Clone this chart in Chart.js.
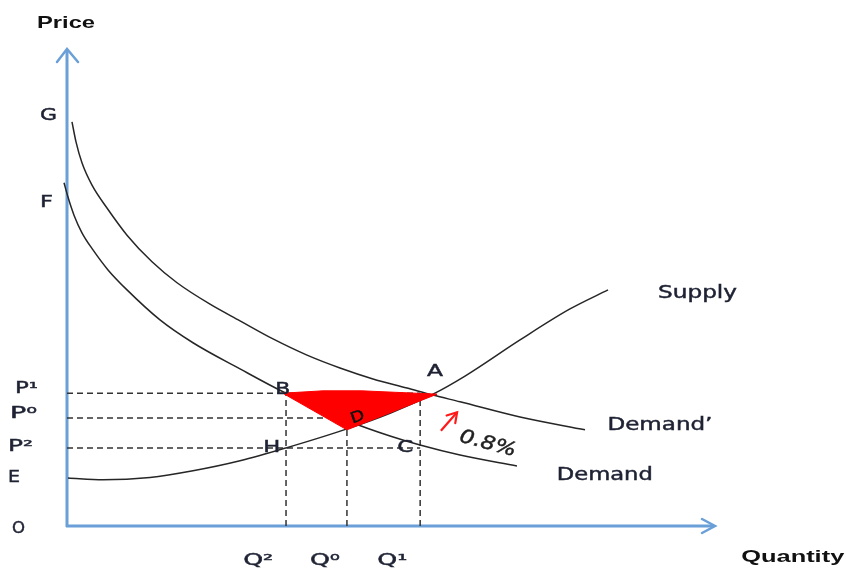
<!DOCTYPE html>
<html>
<head>
<meta charset="utf-8">
<script src="https://cdn.jsdelivr.net/npm/chart.js@4.4.1/dist/chart.umd.min.js"></script>
<style>
html,body{margin:0;padding:0;background:#ffffff;}
#wrap{width:846px;height:570px;position:relative;}
</style>
</head>
<body>
<div id="wrap"><canvas id="c"></canvas></div>
<script>
// ---------- data (quantity / price units) ----------
const demandPrimeQ = [0.77, 1.39, 2.31, 3.86, 6.17, 9.26, 13.12, 16.98, 22.07, 26.70, 31.79, 37.04, 42.13, 47.22, 52.47, 56.48, 60.65, 69.91, 79.94];
const demandPrimeP = [84.9, 80.7, 76.3, 71.6, 66.8, 61.1, 55.5, 51.1, 46.6, 43.1, 39.3, 35.9, 33.2, 30.9, 29.0, 27.5, 26.1, 22.9, 20.2];

const demandQ = [-0.46, 0.15, 1.08, 2.31, 4.01, 6.33, 9.26, 14.35, 19.44, 26.70, 33.33, 39.51, 43.67, 49.85, 54.48, 60.65, 69.44];
const demandP = [72.1, 69.1, 65.3, 61.6, 58.0, 53.8, 49.6, 43.3, 38.5, 33.0, 28.2, 24.4, 21.9, 18.9, 17.0, 14.9, 12.6];

const supplyQ = [0.15, 5.56, 12.81, 19.44, 26.70, 33.80, 43.21, 49.85, 56.48, 61.42, 69.91, 77.62, 83.49];
const supplyP = [10.1, 9.7, 10.2, 11.6, 13.7, 16.4, 20.4, 23.7, 27.7, 31.5, 39.1, 45.6, 49.6];

// price levels P1, P0, P2 and quantity levels Q2, Q0, Q1
const priceLevelNames = ['P1', 'P0', 'P2'];
const priceLevelValues = [27.9, 22.7, 16.4];
const quantityLevelNames = ['Q2', 'Q0', 'Q1'];
const quantityLevelValues = [33.8, 43.2, 54.5];
const equilibriumDP = 20.2; // price at point D (Q0)

// shaded welfare-loss triangle (B -> top edge -> A -> D)
const lossQ = [33.3, 39.5, 45.5, 57.1, 43.2, 33.3];
const lossP = [27.9, 28.4, 28.4, 27.7, 20.2, 27.9];

// red shift arrow (0.8%)
const shiftQ = [57.7, 60.2];
const shiftP = [20.0, 23.9];

// tick labels
const priceTickLabels = ['G', 'F', 'P\u00B9', 'P\u2070', 'P\u00B2', 'E', 'O'];
const priceTickValues = [86.6, 68.2, 29.2, 23.9, 17.0, 10.5, -0.3];
const quantityTickLabels = ['Q\u00B2', 'Q\u2070', 'Q\u00B9'];
const quantityTickValues = [29.5, 39.8, 50.2];

// ---------- layout / style (not data) ----------
const priceTickOffsetPx = [18.5, 20.5, 40.5, 43.5, 46.5, 53, 48.5];
const priceTickWidth = [17, 13, 23, 27, 25, 12, 13];
const quantityTickY = -7.0;

const textLabels = [
  // text, q, p, size, weight, targetWidth, rotation, italic, color
  ['Price', -0.15, 106.0, 17, 'bold', 58, 0, false, '#111111'],
  ['Quantity', 112.0, -6.3, 17, 'bold', 103, 0, false, '#111111'],
  ['Supply', 97.3, 49.2, 17, 'normal', 79, 0, false, '#1e2233'],
  ['Demand\u2019', 91.5, 21.5, 17, 'normal', 105, 0, false, '#1e2233'],
  ['Demand', 83.0, 11.0, 17, 'normal', 96, 0, false, '#1e2233'],
  ['A', 56.8, 32.7, 16, 'normal', 16, 0, false, '#1e2233'],
  ['B', 33.3, 29.0, 16, 'normal', 15, 0, false, '#1e2233'],
  ['C', 52.2, 16.8, 16, 'normal', 16, 0, false, '#1e2233'],
  ['H', 31.6, 16.8, 16, 'normal', 17, 0, false, '#1e2233'],
  ['D', 44.8, 23.1, 15, 'normal', 14, -20, false, '#111111'],
  ['0.8%', 65.0, 17.6, 19, 'normal', 58, 15, true, '#222222']
];

const AXIS_COLOR = '#6a9fd8';
const FONT_REG = '"DejaVu Sans", "Liberation Sans", sans-serif';
const FONT_BOLD = '"Liberation Sans", Arial, "DejaVu Sans", sans-serif';

function pts(xs, ys) { return xs.map((x, i) => ({ x: x, y: ys[i] })); }

function drawLabel(ctx, text, px, py, size, weight, targetW, rot, italic, color) {
  ctx.save();
  ctx.font = (italic ? 'italic ' : '') + weight + ' ' + size + 'px ' + (weight === 'bold' ? FONT_BOLD : FONT_REG);
  const w = ctx.measureText(text).width;
  const sx = targetW ? targetW / w : 1.3;
  ctx.translate(px, py);
  if (rot) ctx.rotate(rot * Math.PI / 180);
  ctx.scale(sx, 1);
  ctx.textAlign = 'center';
  ctx.textBaseline = 'alphabetic';
  ctx.fillStyle = color;
  ctx.fillText(text, 0, size * 0.36);
  if (weight !== 'bold') {
    ctx.strokeStyle = color;
    ctx.lineWidth = 0.45;
    ctx.strokeText(text, 0, size * 0.36);
  }
  ctx.restore();
}

const guideStyle = { borderColor: '#333333', borderWidth: 1.5, borderDash: [6, 4], pointRadius: 0, tension: 0, fill: false, order: 3, clip: false };
const curveStyle = { borderColor: '#262626', borderWidth: 1.5, pointRadius: 0, tension: 0.4, cubicInterpolationMode: 'monotone', fill: false, order: 2, clip: false };

const guides = [];
// horizontal: P1 to Q1, P0 to Q0, P2 to Q1
guides.push(pts([0, quantityLevelValues[2]], [priceLevelValues[0], priceLevelValues[0]]));
guides.push(pts([0, quantityLevelValues[1]], [priceLevelValues[1], priceLevelValues[1]]));
guides.push(pts([0, quantityLevelValues[2]], [priceLevelValues[2], priceLevelValues[2]]));
// vertical: Q2 up to P1, Q0 up to D, Q1 up to P1
guides.push(pts([quantityLevelValues[0], quantityLevelValues[0]], [0, priceLevelValues[0]]));
guides.push(pts([quantityLevelValues[1], quantityLevelValues[1]], [0, equilibriumDP]));
guides.push(pts([quantityLevelValues[2], quantityLevelValues[2]], [0, priceLevelValues[0]]));

const datasets = [
  { label: 'Loss', data: pts(lossQ, lossP), borderColor: '#ff0000', backgroundColor: '#ff0000', borderWidth: 1, pointRadius: 0, tension: 0, fill: 'shape', order: 0, clip: false },
  { label: 'Shift', data: pts(shiftQ, shiftP), borderColor: '#ff1a1a', borderWidth: 2.2, pointRadius: 0, tension: 0, fill: false, order: 0, clip: false },
  Object.assign({ label: 'Demand\u2019', data: pts(demandPrimeQ, demandPrimeP) }, curveStyle),
  Object.assign({ label: 'Demand', data: pts(demandQ, demandP) }, curveStyle),
  Object.assign({ label: 'Supply', data: pts(supplyQ, supplyP) }, curveStyle)
];
guides.forEach((g, i) => datasets.push(Object.assign({ label: 'guide' + i, data: g }, guideStyle)));

const diagramPlugin = {
  id: 'diagram',
  beforeDatasetsDraw(chart) {
    const ctx = chart.ctx, xs = chart.scales.x, ys = chart.scales.y;
    const x0 = xs.getPixelForValue(0), y0 = ys.getPixelForValue(0);
    const xTip = xs.getPixelForValue(100), yTip = ys.getPixelForValue(100) - 1;
    ctx.save();
    ctx.strokeStyle = AXIS_COLOR;
    ctx.lineWidth = 3;
    ctx.lineCap = 'butt';
    ctx.beginPath();
    ctx.moveTo(x0, y0 + 1); ctx.lineTo(x0, yTip + 1);
    ctx.moveTo(x0 - 1, y0); ctx.lineTo(xTip - 1, y0);
    ctx.stroke();
    ctx.lineWidth = 2.5;
    ctx.lineCap = 'round';
    ctx.lineJoin = 'miter';
    ctx.beginPath();
    ctx.moveTo(x0 - 10, yTip + 13); ctx.lineTo(x0, yTip); ctx.lineTo(x0 + 11, yTip + 13);
    ctx.moveTo(xTip - 13, y0 - 7); ctx.lineTo(xTip, y0); ctx.lineTo(xTip - 13, y0 + 7);
    ctx.stroke();
    ctx.restore();
  },
  afterDatasetsDraw(chart) {
    const ctx = chart.ctx, xs = chart.scales.x, ys = chart.scales.y;
    const x0 = xs.getPixelForValue(0);
    // red arrow head
    const tx = xs.getPixelForValue(shiftQ[0]), ty = ys.getPixelForValue(shiftP[0]);
    const hx = xs.getPixelForValue(shiftQ[1]), hy = ys.getPixelForValue(shiftP[1]);
    const ang = Math.atan2(hy - ty, hx - tx);
    ctx.save();
    ctx.strokeStyle = '#ff1a1a';
    ctx.lineWidth = 2.2;
    ctx.lineCap = 'round';
    ctx.beginPath();
    ctx.moveTo(hx - 11 * Math.cos(ang - 0.55), hy - 11 * Math.sin(ang - 0.55));
    ctx.lineTo(hx, hy);
    ctx.lineTo(hx - 11 * Math.cos(ang + 0.55), hy - 11 * Math.sin(ang + 0.55));
    ctx.stroke();
    ctx.restore();
    // price tick labels
    priceTickLabels.forEach((t, i) => {
      drawLabel(ctx, t, x0 - priceTickOffsetPx[i], ys.getPixelForValue(priceTickValues[i]), 16, 'normal', priceTickWidth[i], 0, false, '#1e2233');
    });
    // quantity tick labels
    quantityTickLabels.forEach((t, i) => {
      drawLabel(ctx, t, xs.getPixelForValue(quantityTickValues[i]), ys.getPixelForValue(quantityTickY), 16, 'normal', 30, 0, false, '#1e2233');
    });
    // other text
    textLabels.forEach(l => {
      drawLabel(ctx, l[0], xs.getPixelForValue(l[1]), ys.getPixelForValue(l[2]), l[3], l[4], l[5], l[6], l[7], l[8]);
    });
  }
};

new Chart(document.getElementById('c'), {
  type: 'line',
  data: { datasets: datasets },
  options: {
    responsive: true,
    maintainAspectRatio: false,
    animation: false,
    layout: { padding: { left: 67, right: 131, top: 50, bottom: 44 } },
    scales: {
      x: { type: 'linear', min: 0, max: 100, display: false },
      y: { type: 'linear', min: 0, max: 100, display: false }
    },
    plugins: {
      legend: { display: false },
      tooltip: { enabled: false },
      filler: { propagate: false }
    }
  },
  plugins: [diagramPlugin]
});
</script>
</body>
</html>
